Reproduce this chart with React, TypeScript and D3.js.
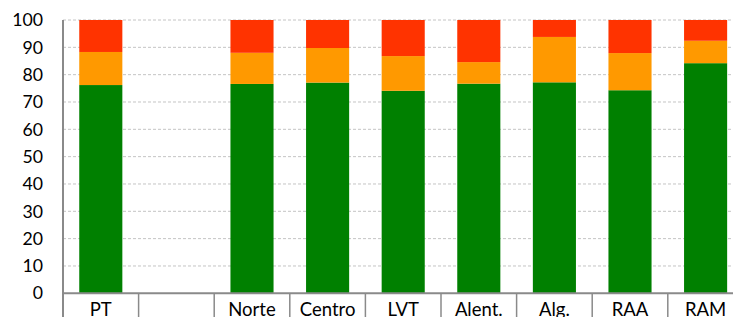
import React from "react";
import * as d3 from "d3";

const categories = ["PT", "", "Norte", "Centro", "LVT", "Alent.", "Alg.", "RAA", "RAM"];
const greenValues = [76.2, null, 76.6, 77.1, 74.1, 76.7, 77.2, 74.3, 84.2];
const orangeValues = [12.1, null, 11.4, 12.65, 12.7, 7.9, 16.6, 13.6, 8.2];
const redValues = [11.7, null, 12.0, 10.25, 13.2, 15.4, 6.2, 12.1, 7.6];
const yTicks = [0, 10, 20, 30, 40, 50, 60, 70, 80, 90, 100];
const seriesColors = ["#008000", "#FF9900", "#FF3300"];

const W = 733;
const H = 317;
const left = 63;
const step = 75.6;
const top = 20;
const bottom = 293.3;

export default function App() {
  const x = d3
    .scaleBand<string>()
    .domain(categories.map((_, i) => String(i)))
    .range([left, left + step * categories.length])
    .padding(0);
  const y = d3.scaleLinear().domain([0, 100]).range([bottom, top]);
  const bw = x.bandwidth();
  const barW = bw * 0.57;

  const rows = categories.map((c, i) => ({
    key: String(i),
    green: greenValues[i],
    orange: orangeValues[i],
    red: redValues[i],
  }));
  const valid = rows.filter((r) => r.green != null) as any[];
  const stack = d3.stack<any>().keys(["green", "orange", "red"]);
  const series = stack(valid);
  const font = "Lato, 'Open Sans', sans-serif";
  const xEnd = left + step * categories.length;

  return (
    <svg
      width={W}
      height={H}
      style={{ position: "absolute", left: 0, top: 0, background: "#fff" }}
      fontFamily={font}
    >
      {yTicks.map((t) => (
        <g key={t}>
          {t > 0 && (
            <line
              x1={left}
              x2={xEnd}
              y1={y(t)}
              y2={y(t)}
              stroke="#c4c4c4"
              strokeWidth={1}
              strokeDasharray="3,2"
            />
          )}
          <text
            x={43}
            y={y(t)}
            dy="0.35em"
            textAnchor="end"
            fontSize={17.7}
            fill="#000"
          >
            {t}
          </text>
        </g>
      ))}
      {series.map((s, si) =>
        s.map((d: any) => (
          <rect
            key={si + "-" + d.data.key}
            x={(x(d.data.key) as number) + (bw - barW) / 2}
            width={barW}
            y={y(d[1])}
            height={y(d[0]) - y(d[1])}
            fill={seriesColors[si]}
          />
        ))
      )}
      <line x1={left} x2={left} y1={top} y2={H} stroke="#8a8a8a" strokeWidth={2} />
      <line x1={left} x2={xEnd} y1={bottom} y2={bottom} stroke="#8a8a8a" strokeWidth={2} />
      {categories.map((c, i) => (
        <g key={i}>
          <line
            x1={(x(String(i)) as number) + bw}
            x2={(x(String(i)) as number) + bw}
            y1={bottom}
            y2={H}
            stroke="#8a8a8a"
            strokeWidth={1.5}
          />
          <text
            x={(x(String(i)) as number) + bw / 2}
            y={316}
            textAnchor="middle"
            fontSize={18.5}
            fill="#000"
          >
            {c}
          </text>
        </g>
      ))}
    </svg>
  );
}
